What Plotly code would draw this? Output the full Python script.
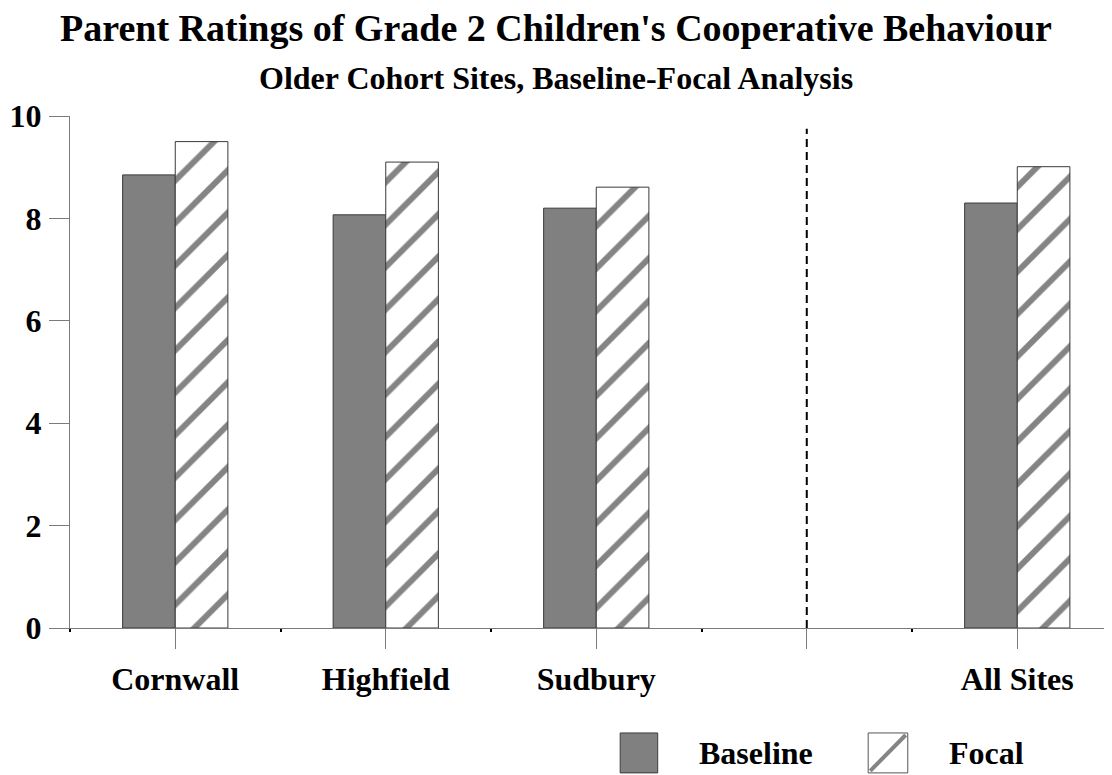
import plotly.graph_objects as go

# Datos
SITES = ["Cornwall", "Highfield", "Sudbury", "", "All Sites"]
BASELINE = [8.85, 8.07, 8.20, None, 8.30]
FOCAL = [9.50, 9.10, 8.61, None, 9.01]
Y_TICKS = [0, 2, 4, 6, 8, 10]

GRAY = "#808080"
STRIPE = "#848484"
AXIS = "#7a7a7a"
FONT = "Liberation Serif"

# la página tiene 8 px de margen propio: la figura es 8 px menor
W, H = 1104, 767

x_pos = list(range(len(SITES)))

fig = go.Figure()
fig.add_trace(go.Bar(
    x=x_pos, y=BASELINE, name="Baseline",
    marker=dict(color=GRAY, line=dict(color="#3a3a3a", width=1)),
))
fig.add_trace(go.Bar(
    x=x_pos, y=FOCAL, name="Focal",
    marker=dict(color="white", line=dict(color="#3a3a3a", width=1),
                pattern=dict(shape="/", fgcolor=STRIPE, bgcolor="white",
                             fgopacity=1, size=30, solidity=0.2)),
))

# separador discontinuo antes de "All Sites"
fig.add_shape(type="line", x0=3, x1=3, y0=0, y1=9.75, xref="x", yref="y",
              line=dict(color="black", width=2, dash="8px,5px"))

# leyenda manual (muestras grandes)
fig.add_shape(type="rect", xref="paper", yref="paper",
              x0=0.528, x1=0.564, y0=-0.283, y1=-0.205,
              fillcolor=GRAY, line=dict(color="#3a3a3a", width=1))
fig.add_shape(type="rect", xref="paper", yref="paper",
              x0=0.766, x1=0.804, y0=-0.283, y1=-0.205,
              fillcolor="white", line=dict(color="#555555", width=1))
fig.add_shape(type="line", xref="paper", yref="paper",
              x0=0.768, x1=0.802, y0=-0.279, y1=-0.209,
              line=dict(color=STRIPE, width=4))
for xt, txt in [(0.602, "Baseline"), (0.842, "Focal")]:
    fig.add_annotation(x=xt, y=-0.244, xref="paper", yref="paper",
                       text=txt, showarrow=False, xanchor="left", yanchor="middle",
                       font=dict(family=FONT, size=32, color="black", weight="bold"))

fig.add_annotation(x=0.4664, y=1.074, xref="paper", yref="paper",
                   text="Older Cohort Sites, Baseline-Focal Analysis",
                   showarrow=False, yanchor="middle", xanchor="center",
                   font=dict(family=FONT, size=32, color="black", weight="bold"))

fig.update_layout(
    width=W, height=H,
    margin=dict(l=62, r=0, t=108, b=147),
    paper_bgcolor="white", plot_bgcolor="white",
    barmode="group", bargap=0.5, bargroupgap=0,
    showlegend=False,
    title=dict(text="Parent Ratings of Grade 2 Children's Cooperative Behaviour",
               x=(556 - 8) / W, xref="container", y=1 - 20 / H, yref="container",
               xanchor="center", yanchor="middle",
               font=dict(family=FONT, size=38, color="black", weight="bold")),
    font=dict(family=FONT, color="black"),
)
fig.update_xaxes(
    range=[-0.5, 4.45], tickvals=x_pos, ticktext=SITES,
    showline=True, linecolor=AXIS, linewidth=1,
    ticks="outside", ticklen=20, tickcolor=AXIS, tickwidth=1,
    ticklabelstandoff=3,
    minor=dict(tickmode="linear", tick0=0.5, dtick=1, ticks="outside",
               ticklen=3, tickcolor="black", tickwidth=2),
    showgrid=False, zeroline=False,
    tickfont=dict(family=FONT, size=32, color="black", weight="bold"),
)
fig.update_yaxes(
    range=[0, 10], tickvals=Y_TICKS,
    showline=True, linecolor=AXIS, linewidth=1,
    ticks="outside", ticklen=20, tickcolor=AXIS, tickwidth=1,
    ticklabelstandoff=1,
    showgrid=False, zeroline=False,
    tickfont=dict(family=FONT, size=32, color="black", weight="bold"),
)

fig.write_html("out.html")
